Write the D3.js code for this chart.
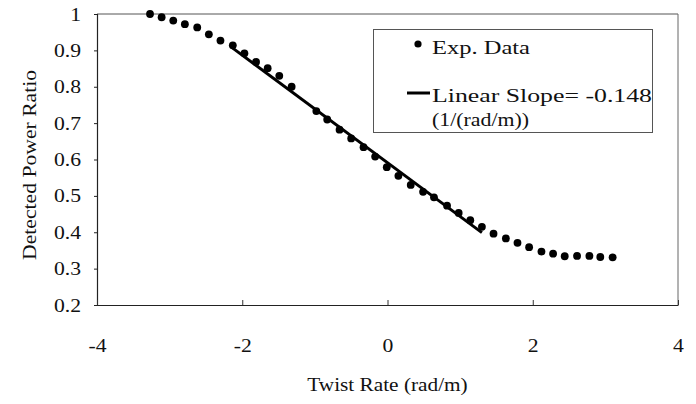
<!DOCTYPE html>
<html>
<head>
<meta charset="utf-8">
<script src="https://cdn.jsdelivr.net/npm/d3@7"></script>
<style>
  body { margin: 0; background: #fff; }
  svg text { font-family: "Liberation Serif", "Times New Roman", Times, serif; fill: #111; }
</style>
</head>
<body>
<div id="chart"></div>
<script>
// measured points (twist rate, detected power ratio)
var twistRate = [-3.27, -3.11, -2.95, -2.79, -2.62, -2.46, -2.30, -2.13, -1.97, -1.81,
                 -1.65, -1.49, -1.32, -0.98, -0.83, -0.66, -0.50, -0.33, -0.17, -0.01,
                 0.15, 0.32, 0.49, 0.64, 0.82, 0.98, 1.14, 1.30, 1.46, 1.63,
                 1.79, 1.95, 2.12, 2.28, 2.44, 2.61, 2.78, 2.93, 3.10];
var powerRatio = [1.0, 0.991, 0.982, 0.972, 0.963, 0.944, 0.927, 0.914, 0.892, 0.868,
                  0.851, 0.830, 0.800, 0.733, 0.710, 0.682, 0.658, 0.634, 0.608, 0.579,
                  0.555, 0.530, 0.511, 0.496, 0.473, 0.453, 0.433, 0.415, 0.396, 0.383,
                  0.371, 0.359, 0.347, 0.341, 0.334, 0.335, 0.335, 0.332, 0.331];
// linear fit end points
var fitX = [-2.15, 1.30];
var fitY = [0.909, 0.399];
var xTicks = [-4, -2, 0, 2, 4];
var yTicks = [0.2, 0.3, 0.4, 0.5, 0.6, 0.7, 0.8, 0.9, 1];
var legendLabels = ["Exp. Data", "Linear Slope= -0.148", "(1/(rad/m))"];

var width = 696, height = 404;
var margin = {left: 97, top: 14, right: 18, bottom: 99};
var serif = '"Liberation Serif", "Times New Roman", Times, serif';
var fontSize = 19;

var svg = d3.select("#chart").append("svg")
  .attr("width", width).attr("height", height)
  .attr("font-family", serif);

var x = d3.scaleLinear().domain([-4, 4]).range([margin.left, width - margin.right]);
var y = d3.scaleLinear().domain([0.2, 1]).range([height - margin.bottom, margin.top]);

// the original scan is a bit wider than tall, so widen the glyphs
function stretch(sel, k) {
  sel.each(function() {
    var w = this.getComputedTextLength();
    d3.select(this).attr("textLength", w * k).attr("lengthAdjust", "spacingAndGlyphs");
  });
}

// frame: top and right edges lighter
svg.append("line")
  .attr("x1", x(-4)).attr("x2", x(4)).attr("y1", y(1)).attr("y2", y(1))
  .style("stroke", "#555").style("stroke-width", 1);
svg.append("line")
  .attr("x1", x(4)).attr("x2", x(4)).attr("y1", y(1)).attr("y2", y(0.2))
  .style("stroke", "#666").style("stroke-width", 1);

// y axis
var yAxis = d3.axisLeft(y).tickValues(yTicks).tickSize(3).tickPadding(13)
  .tickFormat(function(d){ return d === 1 ? "1" : d.toFixed(1); });
var gy = svg.append("g").attr("transform", "translate(" + x(-4) + ",0)").call(yAxis);
gy.attr("font-family", serif).attr("font-size", fontSize);
gy.select(".domain").style("stroke", "#222").style("stroke-width", 1.2);
gy.selectAll(".tick line").style("stroke", "#222");
gy.selectAll("text").attr("fill", "#111").call(stretch, 1.14);

// x axis (ticks point inward)
var xAxis = d3.axisBottom(x).tickValues(xTicks).tickSizeInner(-5).tickSizeOuter(0).tickPadding(34)
  .tickFormat(function(d){ return String(d); });
var gx = svg.append("g").attr("transform", "translate(0," + y(0.2) + ")").call(xAxis);
gx.attr("font-family", serif).attr("font-size", fontSize);
gx.select(".domain").style("stroke", "#222").style("stroke-width", 1.2);
gx.selectAll(".tick line").style("stroke", "#333");
gx.selectAll("text").attr("fill", "#111").call(stretch, 1.14);

// linear fit
svg.append("path")
  .datum(d3.zip(fitX, fitY))
  .attr("d", d3.line().x(function(d){ return x(d[0]); }).y(function(d){ return y(d[1]); }))
  .style("fill", "none").style("stroke", "#000").style("stroke-width", 3);

// experimental points
svg.append("g").selectAll("circle")
  .data(d3.zip(twistRate, powerRatio))
  .enter().append("circle")
  .attr("cx", function(d){ return x(d[0]); })
  .attr("cy", function(d){ return y(d[1]); })
  .attr("r", 3.9)
  .style("fill", "#000");

// axis titles
svg.append("text")
  .attr("x", (x(-4) + x(4)) / 2).attr("y", 391)
  .attr("text-anchor", "middle").style("font-size", fontSize + "px")
  .text("Twist Rate (rad/m)")
  .call(stretch, 1.12);
svg.append("text")
  .attr("transform", "translate(36," + y(0.585) + ") rotate(-90)")
  .attr("text-anchor", "middle").style("font-size", fontSize + "px")
  .text("Detected Power Ratio")
  .call(stretch, 1.14);

// legend
var lg = svg.append("g");
lg.append("rect")
  .attr("x", 373.5).attr("y", 29.5).attr("width", 279).attr("height", 103)
  .style("fill", "#fff").style("stroke", "#555").style("stroke-width", 1);
lg.append("circle").attr("cx", 418).attr("cy", 44).attr("r", 3.6).style("fill", "#000");
lg.append("line").attr("x1", 407).attr("x2", 430).attr("y1", 93).attr("y2", 93)
  .style("stroke", "#000").style("stroke-width", 3);
var labelY = [54, 102, 126], labelW = [98, 220, 97];
lg.selectAll("text.lab")
  .data(legendLabels)
  .enter().append("text")
  .attr("class", "lab")
  .attr("x", 432)
  .attr("y", function(d, i){ return labelY[i]; })
  .style("font-size", fontSize + "px")
  .attr("textLength", function(d, i){ return labelW[i]; })
  .attr("lengthAdjust", "spacingAndGlyphs")
  .text(function(d){ return d; });
</script>
</body>
</html>
